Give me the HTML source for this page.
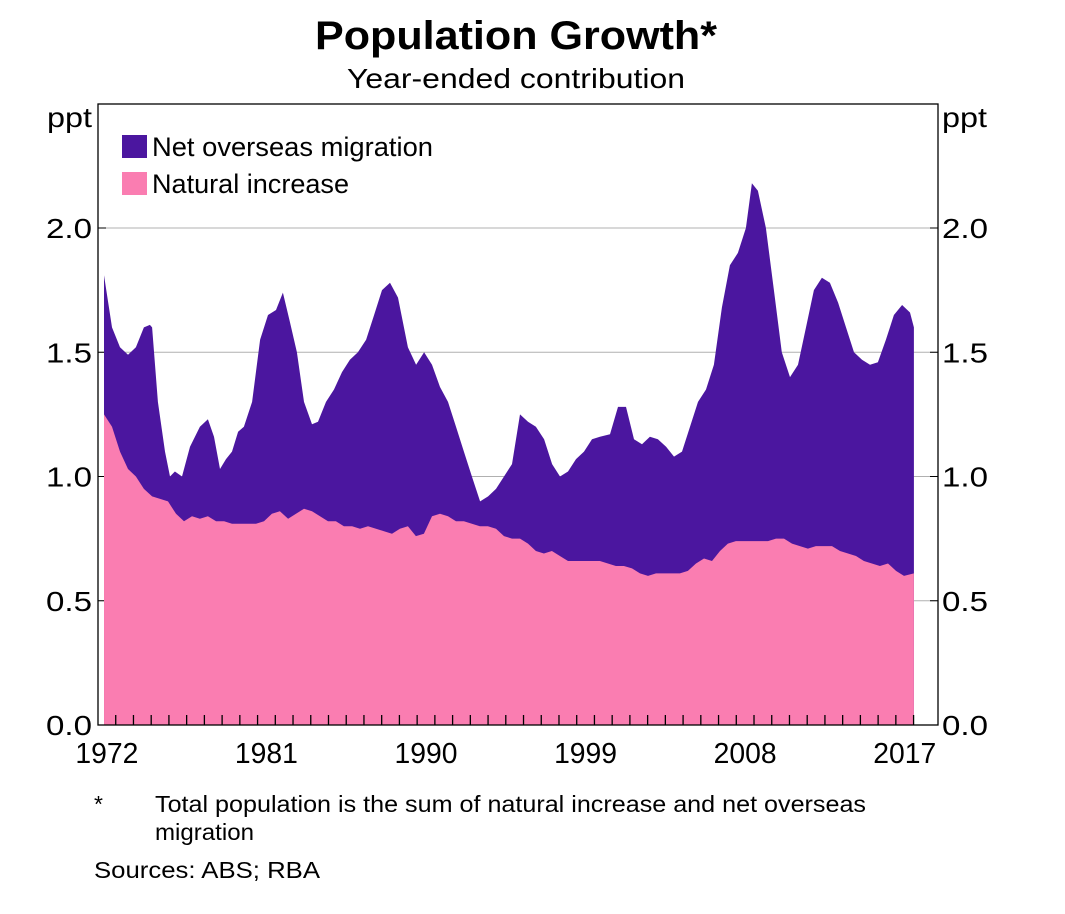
<!DOCTYPE html>
<html><head><meta charset="utf-8"><style>
body{margin:0;background:#fff;font-family:"Liberation Sans",Arial,sans-serif}
svg text{font-family:"Liberation Sans",Arial,sans-serif;fill:#000}
</style></head><body>
<svg id="c" width="1065" height="909">
<text x="516" y="49" font-size="40" font-weight="bold" text-anchor="middle" textLength="402" lengthAdjust="spacingAndGlyphs">Population Growth*</text>
<text x="516" y="88" font-size="28" text-anchor="middle" textLength="338" lengthAdjust="spacingAndGlyphs">Year-ended contribution</text>
<text x="47" y="127" font-size="28" textLength="45" lengthAdjust="spacingAndGlyphs">ppt</text>
<text x="942" y="127" font-size="28" textLength="45" lengthAdjust="spacingAndGlyphs">ppt</text>
<g id="plot"></g>
<rect x="122" y="135" width="25" height="23" fill="#4b169f"/>
<text x="152" y="156" font-size="27" textLength="281" lengthAdjust="spacingAndGlyphs">Net overseas migration</text>
<rect x="122" y="172" width="25" height="23" fill="#fa7db1"/>
<text x="152" y="193" font-size="27" textLength="197" lengthAdjust="spacingAndGlyphs">Natural increase</text>
<text x="94" y="812" font-size="23">*</text>
<text x="155" y="812" font-size="23" textLength="711" lengthAdjust="spacingAndGlyphs">Total population is the sum of natural increase and net overseas</text>
<text x="155" y="840" font-size="23" textLength="99" lengthAdjust="spacingAndGlyphs">migration</text>
<text x="94" y="878" font-size="23" textLength="226" lengthAdjust="spacingAndGlyphs">Sources:   ABS; RBA</text>
</svg>
<script>
const totalYears=[1972.34,1972.79,1973.24,1973.69,1974.14,1974.59,1974.93,1975.05,1975.38,1975.78,1976.06,1976.34,1976.74,1977.19,1977.75,1978.20,1978.54,1978.88,1979.22,1979.56,1979.90,1980.23,1980.69,1981.14,1981.59,1982.04,1982.43,1982.83,1983.22,1983.62,1984.07,1984.41,1984.86,1985.31,1985.76,1986.21,1986.66,1987.12,1987.57,1988.02,1988.47,1988.92,1989.48,1989.94,1990.39,1990.84,1991.29,1991.74,1992.19,1992.64,1993.09,1993.55,1994.00,1994.45,1994.90,1995.35,1995.80,1996.25,1996.70,1997.16,1997.61,1998.06,1998.51,1998.96,1999.41,1999.86,2000.31,2000.88,2001.33,2001.78,2002.23,2002.68,2003.13,2003.58,2004.04,2004.49,2004.94,2005.39,2005.84,2006.29,2006.74,2007.19,2007.64,2008.09,2008.54,2008.88,2009.22,2009.67,2010.12,2010.57,2011.03,2011.48,2011.93,2012.38,2012.83,2013.28,2013.74,2014.19,2014.64,2015.09,2015.54,2015.99,2016.44,2016.89,2017.35,2017.80,2018.02];
const totalValues=[1.81,1.6,1.52,1.49,1.52,1.6,1.61,1.6,1.3,1.1,1.0,1.02,1.0,1.12,1.2,1.23,1.16,1.03,1.07,1.1,1.18,1.2,1.3,1.55,1.65,1.67,1.74,1.62,1.5,1.3,1.21,1.22,1.3,1.35,1.42,1.47,1.5,1.55,1.65,1.75,1.78,1.72,1.52,1.45,1.5,1.45,1.36,1.3,1.2,1.1,1.0,0.9,0.92,0.95,1.0,1.05,1.25,1.22,1.2,1.15,1.05,1.0,1.02,1.07,1.1,1.15,1.16,1.17,1.28,1.28,1.15,1.13,1.16,1.15,1.12,1.08,1.1,1.2,1.3,1.35,1.45,1.68,1.85,1.9,2.0,2.18,2.15,2.0,1.75,1.5,1.4,1.45,1.6,1.75,1.8,1.78,1.7,1.6,1.5,1.47,1.45,1.46,1.55,1.65,1.69,1.66,1.6];
const naturalYears=[1972.34,1972.79,1973.24,1973.69,1974.14,1974.59,1975.05,1975.50,1975.95,1976.40,1976.85,1977.30,1977.75,1978.20,1978.66,1979.11,1979.56,1980.01,1980.46,1980.91,1981.36,1981.81,1982.26,1982.72,1983.17,1983.62,1984.07,1984.52,1984.97,1985.42,1985.87,1986.33,1986.78,1987.23,1987.68,1988.13,1988.58,1989.03,1989.48,1989.93,1990.38,1990.84,1991.29,1991.74,1992.19,1992.64,1993.09,1993.54,1993.99,1994.45,1994.90,1995.35,1995.80,1996.25,1996.70,1997.15,1997.60,1998.05,1998.51,1998.96,1999.41,1999.86,2000.31,2000.76,2001.21,2001.66,2002.12,2002.57,2003.02,2003.47,2003.92,2004.37,2004.82,2005.27,2005.73,2006.18,2006.63,2007.08,2007.53,2007.98,2008.43,2008.88,2009.34,2009.79,2010.24,2010.69,2011.14,2011.59,2012.04,2012.49,2012.95,2013.40,2013.85,2014.30,2014.75,2015.20,2015.65,2016.10,2016.56,2017.01,2017.46,2018.02];
const naturalValues=[1.25,1.2,1.1,1.03,1.0,0.95,0.92,0.91,0.9,0.85,0.82,0.84,0.83,0.84,0.82,0.82,0.81,0.81,0.81,0.81,0.82,0.85,0.86,0.83,0.85,0.87,0.86,0.84,0.82,0.82,0.8,0.8,0.79,0.8,0.79,0.78,0.77,0.79,0.8,0.76,0.77,0.84,0.85,0.84,0.82,0.82,0.81,0.8,0.8,0.79,0.76,0.75,0.75,0.73,0.7,0.69,0.7,0.68,0.66,0.66,0.66,0.66,0.66,0.65,0.64,0.64,0.63,0.61,0.6,0.61,0.61,0.61,0.61,0.62,0.65,0.67,0.66,0.7,0.73,0.74,0.74,0.74,0.74,0.74,0.75,0.75,0.73,0.72,0.71,0.72,0.72,0.72,0.7,0.69,0.68,0.66,0.65,0.64,0.65,0.62,0.6,0.61];
const yTicks=[0,0.5,1.0,1.5,2.0];
const yTickLabels=["0.0","0.5","1.0","1.5","2.0"];
const xLabelYears=[1972,1981,1990,1999,2008,2017];

const NS="http://www.w3.org/2000/svg";
const L=98,R=938,T=104,B=725;
const xs=y=>98+(y-1972)*17.73;
const ys=v=>B-v*248.5;
const g=document.getElementById('plot');
function mk(tag,attrs){const e=document.createElementNS(NS,tag);for(const k in attrs)e.setAttribute(k,attrs[k]);g.appendChild(e);return e;}
yTicks.forEach((v,i)=>{
  if(v>0){const ln=mk('line',{x1:L,x2:R,y1:ys(v),y2:ys(v),stroke:'#b0b0b0','stroke-width':1});
  
  }
  const t1=mk('text',{x:92,y:ys(v)+10,'font-size':28,'text-anchor':'end',textLength:46,lengthAdjust:'spacingAndGlyphs'});t1.textContent=yTickLabels[i];
  
  
  const t2=mk('text',{x:942,y:ys(v)+10,'font-size':28,textLength:46,lengthAdjust:'spacingAndGlyphs'});t2.textContent=yTickLabels[i];
  
  
  const tk=mk('line',{x1:R-8,x2:R,y1:ys(v),y2:ys(v),stroke:'#000'});
  
  
  const tk2=mk('line',{x1:L,x2:L+8,y1:ys(v),y2:ys(v),stroke:'#000'});
  
  
});
function area(yrs,vals,color,name){
  let d='M'+xs(yrs[0])+','+B;
  yrs.forEach((y,i)=>{d+='L'+xs(y).toFixed(1)+','+ys(vals[i]).toFixed(1);});
  d+='L'+xs(yrs[yrs.length-1])+','+B+'Z';
  const p=mk('path',{d:d,fill:color});
  
  
}
area(totalYears,totalValues,'#4b169f','migration-area');
area(naturalYears,naturalValues,'#fa7db1','natural-increase-area');
for(let yr=1973;yr<=2018;yr++){
  const t=mk('line',{x1:xs(yr),x2:xs(yr),y1:B,y2:B-10,stroke:'#000','stroke-width':1.3});
  
  
}
xLabelYears.forEach(yr=>{
  const t=mk('text',{x:xs(yr+0.5),y:B+38,'font-size':29,'text-anchor':'middle',textLength:63,lengthAdjust:'spacingAndGlyphs'});t.textContent=yr;
  
  
});
const fr=mk('rect',{x:L,y:T,width:R-L,height:B-T,fill:'none',stroke:'#000','stroke-width':1.3});


</script>
</body></html>
